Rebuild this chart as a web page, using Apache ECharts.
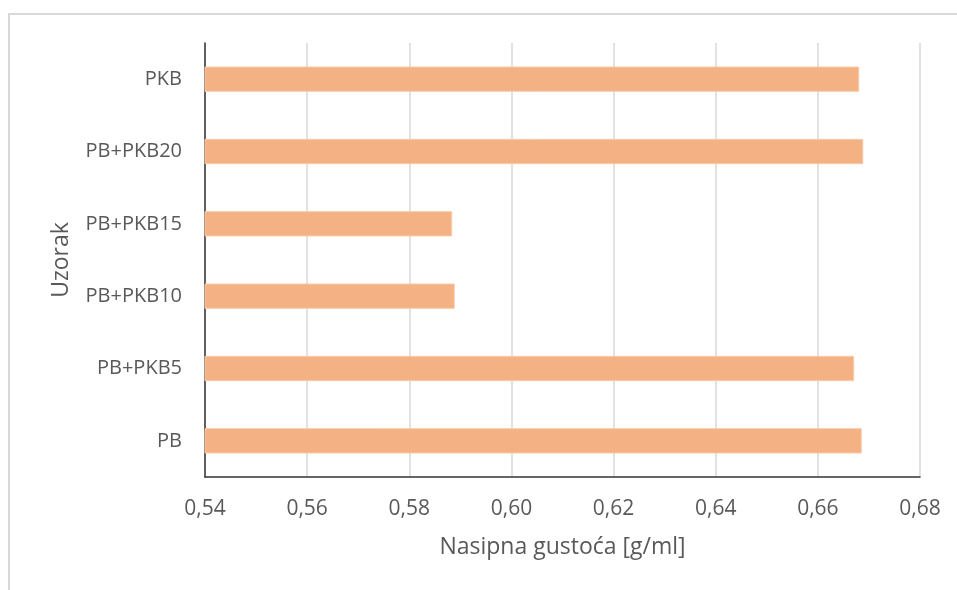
<!DOCTYPE html>
<html>
<head>
<meta charset="utf-8">
<script src="https://cdn.jsdelivr.net/npm/echarts@6/dist/echarts.min.js"></script>
<style>
html,body{margin:0;padding:0;background:#fff;}
#c{width:957px;height:590px;}
</style>
</head>
<body>
<div id="c"></div>
<script>
const categories = ['PB', 'PB+PKB5', 'PB+PKB10', 'PB+PKB15', 'PB+PKB20', 'PKB'];
const values = [0.6686, 0.6671, 0.5889, 0.5884, 0.6689, 0.6681];
const xTicks = { min: 0.54, max: 0.68, interval: 0.02 };
const xTitle = 'Nasipna gustoća [g/ml]';
const yTitle = 'Uzorak';

const FONT = '"Open Sans", "Liberation Sans", sans-serif';
const chart = echarts.init(document.getElementById('c'), null, { renderer: 'canvas' });
chart.setOption({
  backgroundColor: '#ffffff',
  animation: false,
  graphic: [{
    type: 'rect',
    shape: { x: 9, y: 14, width: 1000, height: 700 },
    style: { fill: 'none', stroke: '#d9d9d9', lineWidth: 2 },
    silent: true,
    z: -10
  }],
  grid: { left: 205, right: 37, top: 43, bottom: 113, containLabel: false },
  xAxis: {
    type: 'value',
    min: xTicks.min, max: xTicks.max, interval: xTicks.interval,
    name: xTitle,
    nameLocation: 'middle',
    nameGap: 59,
    nameTextStyle: { color: '#595959', fontSize: 23, fontFamily: FONT },
    axisLine: { show: true, lineStyle: { color: '#333333', width: 1.5 } },
    axisTick: { show: false },
    axisLabel: {
      color: '#595959', fontSize: 21, fontFamily: FONT, margin: 22,
      formatter: v => v.toFixed(2).replace('.', ',')
    },
    splitLine: { show: true, lineStyle: { color: '#d9d9d9', width: 1.5 } }
  },
  yAxis: {
    type: 'category',
    data: categories,
    name: yTitle,
    nameLocation: 'middle',
    nameGap: 132,
    nameRotate: 90,
    nameTextStyle: { color: '#595959', fontSize: 23, fontFamily: FONT },
    axisLine: { show: true, lineStyle: { color: '#333333', width: 1.5 } },
    axisTick: { show: false },
    axisLabel: { color: '#595959', fontSize: 20, fontFamily: FONT, margin: 23 },
    splitLine: { show: false }
  },
  series: [{
    type: 'bar',
    data: values,
    barWidth: '35%',
    itemStyle: { color: '#f4b183', borderColor: '#f8cba8', borderWidth: 1 }
  }]
});
</script>
</body>
</html>
